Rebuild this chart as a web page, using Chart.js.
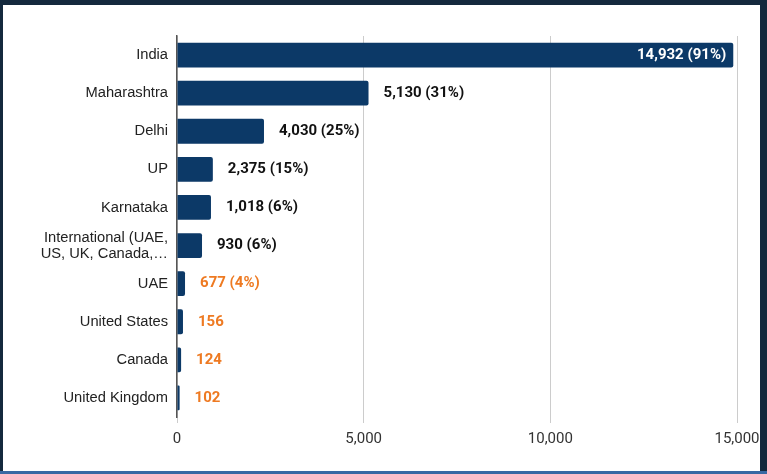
<!DOCTYPE html>
<html>
<head>
<meta charset="utf-8">
<script src="https://cdn.jsdelivr.net/npm/chart.js@4.4.1/dist/chart.umd.min.js"></script>
<style>
  html, body { margin: 0; padding: 0; background: #14293d; width: 767px; height: 474px; overflow: hidden; }
  #panel { position: absolute; left: 3px; top: 5px; width: 757px; height: 466px; background: #fff; }
  #edge { position: absolute; left: 0; top: 471px; width: 767px; height: 3px; background: #3a69a3; }
  canvas { display: block; }
</style>
</head>
<body>
<div id="panel"><canvas id="regionChart" width="757" height="466"></canvas></div>
<div id="edge"></div>
<script>
// categories + values
const regions = ['India', 'Maharashtra', 'Delhi', 'UP', 'Karnataka',
    ['International (UAE,', 'US, UK, Canada,…'], 'UAE', 'United States', 'Canada', 'United Kingdom'];
const barValues = [14900, 5130, 2330, 960, 910, 670, 215, 160, 110, 70];
const valueLabels = ['14,932 (91%)', '5,130 (31%)', '4,030 (25%)', '2,375 (15%)', '1,018 (6%)',
    '930 (6%)', '677 (4%)', '156', '124', '102'];
const labelColors = ['#ffffff', '#111111', '#111111', '#111111', '#111111',
    '#111111', '#ee7a22', '#ee7a22', '#ee7a22', '#ee7a22'];
const xTicks = [0, 5000, 10000, 15000];

// simple value label plugin (no datalabels plugin available)
const valueLabelPlugin = {
    id: 'valueLabels',
    afterDatasetsDraw(chart) {
        const ctx = chart.ctx;
        const meta = chart.getDatasetMeta(0);
        ctx.save();
        ctx.font = 'bold 15px Roboto';
        ctx.textBaseline = 'middle';
        meta.data.forEach((bar, i) => {
            ctx.fillStyle = labelColors[i];
            if (i === 0) {
                ctx.textAlign = 'right';
                ctx.fillText(valueLabels[i], bar.x - 7, bar.y);
            } else {
                ctx.textAlign = 'left';
                ctx.fillText(valueLabels[i], bar.x + 15, bar.y);
            }
        });
        ctx.restore();
    }
};

new Chart(document.getElementById('regionChart').getContext('2d'), {
    type: 'bar',
    data: {
        labels: regions,
        datasets: [{
            data: barValues,
            backgroundColor: '#0c3967',
            borderRadius: 2,
            borderSkipped: 'start',
            categoryPercentage: 1,
            barPercentage: 0.65
        }]
    },
    options: {
        indexAxis: 'y',
        responsive: false,
        animation: false,
        layout: { padding: { top: 31, right: 0, bottom: 16, left: 0 } },
        plugins: { legend: { display: false }, tooltip: { enabled: false } },
        scales: {
            x: {
                min: 0, max: 15000,
                afterBuildTicks: s => { s.ticks = xTicks.map(v => ({ value: v })); },
                afterFit: s => { s.paddingRight = 23; },
                grid: { color: '#cccccc', tickLength: 6, tickColor: '#cccccc' },
                border: { display: false },
                ticks: { color: '#333', font: { family: 'Roboto', size: 15 }, padding: 7,
                    callback: v => v.toLocaleString('en-US') }
            },
            y: {
                afterFit: s => { s.width = 174; },
                grid: { display: false },
                border: { display: true, color: '#555555', width: 1.5 },
                ticks: { color: '#222', font: { family: 'Liberation Sans', size: 14.7, lineHeight: 1.1 }, padding: 1 }
            }
        }
    },
    plugins: [valueLabelPlugin]
});
</script>
</body>
</html>
